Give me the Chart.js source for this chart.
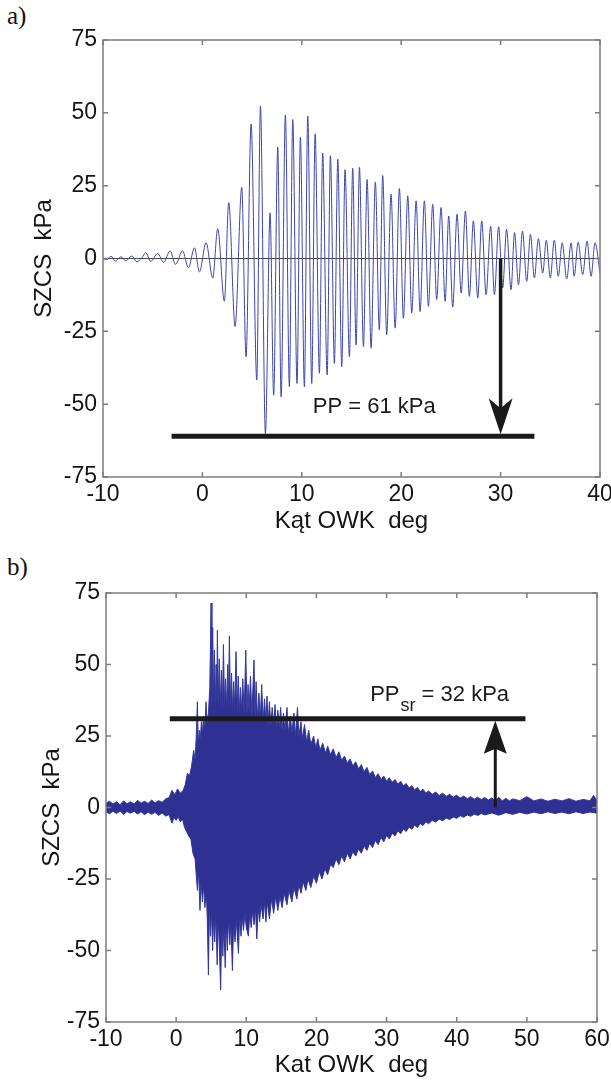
<!DOCTYPE html>
<html>
<head>
<meta charset="utf-8">
<script src="https://cdn.jsdelivr.net/npm/chart.js@4.4.1/dist/chart.umd.min.js"></script>
<style>
  html, body { margin: 0; padding: 0; background: #fff; width: 611px; height: 1084px; overflow: hidden; }
  .panel { position: absolute; left: 0; }
  .tag { position: absolute; left: 7px; font-family: "Liberation Serif", "Times New Roman", serif; font-size: 25px; color: #111; }
</style>
</head>
<body>
<div class="tag" style="top:2px">a)</div>
<div class="tag" style="top:553px">b)</div>
<canvas id="chartA" class="panel" style="top:0" width="620" height="540"></canvas>
<canvas id="chartB" class="panel" style="top:540px" width="620" height="544"></canvas>
<script>
// panel a: crank angle (deg) and pressure oscillation (kPa), peaks and troughs
const aX = [-10.0, -9.6, -9.2, -8.75, -8.2, -7.7, -7.1, -6.6, -6.1, -5.7, -5.2, -4.5, -3.9, -3.25, -2.7, -2.0, -1.4, -0.8, -0.3,
  0.37, 1.04, 1.54, 2.21, 2.65, 3.29, 3.96, 4.39, 4.9, 5.47, 5.84, 6.34, 6.81, 7.17, 7.58, 7.92, 8.35, 8.75, 9.09, 9.52, 9.86,
  10.26, 10.6, 11.0, 11.34, 11.77, 12.1, 12.55, 12.88, 13.28, 13.62, 14.02, 14.35, 14.79, 15.12, 15.46, 15.8, 16.2, 16.57, 16.97,
  17.4, 17.8, 18.14, 18.54, 18.98, 19.39, 19.82, 20.22, 20.66, 21.06, 21.5, 21.9, 22.33, 22.74, 23.17, 23.57, 24.01, 24.42, 24.78,
  25.18, 25.62, 26.03, 26.46, 26.86, 27.26, 27.7, 28.1, 28.54, 29.0, 29.38, 29.8, 30.21, 30.6, 31.05, 31.4, 31.8, 32.2, 32.63,
  33.0, 33.4, 33.8, 34.24, 34.6, 35.0, 35.4, 35.8, 36.2, 36.65, 37.1, 37.4, 37.8, 38.26, 38.7, 39.1, 39.5, 40.0];
const aY = [0.0, -0.4, 0.8, -0.9, 0.6, -0.8, 0.9, -1.1, 0.2, 2.0, -1.0, 1.7, -1.3, 2.6, -2.0, 2.6, -3.2, 3.7, -4.6,
  5.4, -6.7, 10.2, -14.7, 19.2, -23.3, 24.4, -33.7, 46.2, -41.7, 52.3, -60.1, 15.7, -46.9, 38.2, -47.5, 49.3, -44.0, 47.7, -42.9, 41.6,
  -44.0, 48.9, -42.9, 42.8, -39.4, 36.2, -40.0, 35.3, -36.0, 34.1, -37.1, 30.5, -33.7, 31.0, -29.7, 31.3, -30.2, 27.1, -30.8,
  26.2, -24.5, 28.5, -26.2, 22.1, -23.9, 24.0, -20.5, 21.5, -18.7, 19.8, -18.2, 19.8, -16.4, 18.6, -14.1, 17.5, -14.7, 14.6,
  -16.7, 15.2, -11.8, 16.3, -13.0, 12.9, -13.6, 12.9, -12.4, 11.1, -12.4, 10.9, -10.1, 10.0, -10.7, 8.9, -9.0, 9.4, -7.8,
  8.3, -6.7, 6.8, -5.0, 6.3, -6.7, 6.3, -6.1, 5.4, -7.0, 5.4, -6.1, 5.6, -5.5, 6.0, -6.1, 5.4, -5.0];

// panel b: upper and lower envelope of the dense trace
const bHiX = [-10, -9.5, -9, -8.5, -8, -7.5, -7, -6.5, -6, -5.5, -5, -4.5, -4, -3.5, -3, -2.5, -2, -1.5, -1, -0.6, -0.2, 0.2, 0.6, 1.0,
  1.3, 1.6, 1.9, 2.2, 2.5, 2.7, 2.85, 3.03, 3.15, 3.3, 3.45, 3.6, 3.75, 3.9, 4.1, 4.26, 4.4, 4.6, 4.8, 4.98, 5.1, 5.21, 5.35, 5.45,
  5.6, 5.7, 5.8, 5.88, 6.0, 6.15, 6.3, 6.45, 6.6, 6.74, 6.9, 7.05, 7.2, 7.35, 7.45, 7.59, 7.75, 7.9, 8.05, 8.2, 8.35, 8.54, 8.7,
  8.85, 9.0, 9.15, 9.3, 9.5, 9.7, 9.93, 10.1, 10.25, 10.4, 10.6, 10.8, 10.95, 11.1, 11.25, 11.4, 11.6, 11.8, 12.0, 12.2, 12.4,
  12.6, 12.8, 12.95, 13.1, 13.3, 13.5, 13.7, 13.9, 14.1, 14.3, 14.5, 14.7, 14.9, 15.1, 15.3, 15.5, 15.8, 16.0, 16.3, 16.5, 16.8,
  17.0, 17.3, 17.5, 17.8, 18.0, 18.3, 18.6, 18.9, 19.2, 19.6, 19.9, 20.2, 20.5, 20.9, 21.3, 21.6, 22.0, 22.4, 22.8, 23.2, 23.6,
  24.0, 24.4, 24.8, 25.2, 25.6, 26.0, 26.4, 26.8, 27.2, 27.6, 28.0, 28.4, 28.8, 29.2, 29.6, 30.0, 30.4, 30.8, 31.2, 31.6, 32.0,
  32.4, 32.8, 33.2, 33.6, 34.0, 34.4, 34.8, 35.2, 35.6, 36.0, 36.5, 37.0, 37.5, 38.0, 38.5, 39.0, 39.5, 40.0, 40.5, 41.0, 41.5,
  42.0, 42.5, 43.0, 43.5, 44.0, 44.5, 45.0, 45.5, 46.0, 46.5, 47.0, 47.5, 48.0, 49.0, 50.0, 51.0, 52.0, 53.0, 54.0, 55.0, 56.0,
  57.0, 58.0, 59.0, 59.5, 60.0];
const bHi = [1.5, 2.2, 1.2, 2.0, 1.0, 2.3, 1.3, 2.0, 1.2, 2.5, 1.5, 2.2, 1.4, 2.6, 1.6, 2.4, 1.8, 3.0, 3.5, 6.0, 4.5, 6.5, 5.0, 6.0,
  8.0, 12.0, 11.0, 14.5, 20.0, 17.0, 24.0, 37.0, 22.0, 27.0, 24.0, 30.0, 26.0, 32.0, 28.0, 37.0, 30.0, 33.0, 42.0, 71.5, 36, 63, 37, 55,
  36, 50, 38, 62, 37, 52, 36, 48, 35, 57, 36, 45, 35, 50, 36, 60, 35, 47, 34, 44, 35, 54.5, 34,
  46, 33, 42, 34, 45, 33, 55, 33, 43, 34, 46, 32, 42, 51.6, 32, 44, 31, 40, 31, 43, 30,
  38, 30, 39, 29, 37, 29, 35, 29, 36, 28, 34, 28, 35, 27, 33, 27, 35, 26, 32, 26, 33,
  25, 35, 25, 30, 24, 29, 23, 27, 22, 25, 21, 24, 20, 22.5, 19, 21.5, 18.5, 20.5, 17.5, 19.5, 16.5,
  18.0, 15.5, 17.0, 14.5, 16.0, 13.5, 15.0, 12.5, 14.0, 11.5, 12.8, 10.5, 11.8, 9.8, 11.0, 9.2, 10.4, 8.8, 9.8, 8.2, 9.2,
  7.6, 8.4, 6.8, 7.6, 6.2, 7.0, 5.6, 6.4, 5.0, 5.8, 4.6, 5.4, 4.2, 5.0, 3.9, 4.6, 3.6, 4.3, 3.3, 4.0, 3.1,
  3.8, 2.9, 3.6, 2.8, 3.5, 2.6, 3.3, 2.4, 3.6, 2.3, 3.2, 2.3, 3.0, 2.4, 3.8, 2.3, 3.0, 2.2, 2.9, 2.3, 3.1,
  2.2, 2.8, 2.4, 4.2, 2.5];
const bLoX = [-10, -9.5, -9, -8.5, -8, -7.5, -7, -6.5, -6, -5.5, -5, -4.5, -4, -3.5, -3, -2.5, -2, -1.5, -1, -0.6, -0.3, 0, 0.3, 0.6,
  0.9, 1.2, 1.5, 1.8, 2.1, 2.4, 2.7, 3.03, 3.2, 3.4, 3.55, 3.75, 3.9, 4.1, 4.3, 4.45, 4.6, 4.75, 4.9, 5.05, 5.2, 5.35, 5.5, 5.65,
  5.85, 6.0, 6.15, 6.35, 6.5, 6.65, 6.8, 7.0, 7.15, 7.3, 7.45, 7.65, 7.8, 8.02, 8.2, 8.4, 8.55, 8.7, 8.88, 9.05, 9.25, 9.4, 9.6,
  9.8, 10.0, 10.3, 10.5, 10.7, 10.9, 11.1, 11.3, 11.5, 11.7, 11.9, 12.1, 12.4, 12.6, 12.8, 13.0, 13.3, 13.6, 13.9, 14.2, 14.5,
  14.8, 15.1, 15.4, 15.8, 16.1, 16.5, 16.8, 17.2, 17.5, 17.8, 18.1, 18.5, 18.8, 19.2, 19.6, 20.0, 20.4, 20.8, 21.2, 21.6, 22.0,
  22.4, 22.8, 23.2, 23.6, 24.0, 24.4, 24.8, 25.2, 25.6, 26.0, 26.4, 26.8, 27.2, 27.6, 28.0, 28.4, 28.8, 29.2, 29.6, 30.0, 30.4,
  30.8, 31.2, 31.6, 32.0, 32.4, 32.8, 33.2, 33.6, 34.0, 34.4, 34.8, 35.2, 35.6, 36.0, 36.5, 37.0, 37.5, 38.0, 38.5, 39.0, 39.5,
  40.0, 40.5, 41.0, 41.5, 42.0, 42.5, 43.0, 43.5, 44.0, 45.0, 46.0, 47.0, 48.0, 49.0, 50.0, 51.0, 52.0, 53.0, 54.0, 55.0, 56.0,
  57.0, 58.0, 59.0, 60.0];
const bLo = [-1.5, -2.2, -1.3, -2.1, -1.2, -2.4, -1.4, -2.0, -1.3, -2.3, -1.5, -2.5, -1.6, -2.4, -1.7, -2.8, -1.9, -3.0, -2.5, -5.5, -3.5, -4.5, -3.2, -5.0,
  -4.0, -7.0, -8.5, -10, -11, -16, -18, -29, -22, -36, -26, -33, -27, -35, -29, -40, -58.6, -34, -45, -36, -50, -38, -47, -37,
  -55, -39, -48, -63.8, -40, -52, -41, -56, -40, -50, -39, -48, -40, -57, -40, -47, -39, -44, -51, -38, -45, -38, -43,
  -37, -42, -45, -37, -42, -36, -41, -35, -46, -35, -40, -34, -39, -33, -40, -33, -39, -32, -37, -31, -36,
  -31, -35, -30, -34, -29, -33, -28, -32, -27, -30, -26, -29, -25, -28, -24, -26.5, -22.5, -25, -21.5, -23.5, -20,
  -21, -18, -20, -17, -19, -16, -18, -15.5, -17, -14.5, -16, -13.5, -15, -12.5, -14, -11.5, -13, -10.5, -12, -9.8, -11,
  -9.0, -10, -8.2, -9.2, -7.5, -8.4, -6.8, -7.6, -6.2, -7.0, -5.6, -6.3, -5.0, -5.7, -4.5, -5.1, -4.1, -4.6, -3.7, -4.2, -3.3,
  -3.8, -2.9, -3.4, -2.6, -3.1, -2.3, -2.8, -2.1, -2.6, -1.9, -2.7, -1.8, -2.4, -1.7, -2.3, -1.6, -2.2, -1.5, -2.1, -1.6, -2.2,
  -1.5, -2.1, -1.6, -2.0];

// annotations
const ppA = 61, ppAFrom = -3.1, ppATo = 33.4, arrowAX = 30;
const ppB = 31, ppBFrom = -0.9, ppBTo = 49.8, arrowBX = 45.5;

const tickFont = { family: "'Liberation Sans', Arial, sans-serif", size: 23 };
const titleFont = { family: "'Liberation Sans', Arial, sans-serif", size: 24 };
const ink = "#151515";

function pts(xs, ys) {
  return xs.map((x, i) => ({ x: x, y: ys[i] }));
}

const boxPlugin = {
  id: "box",
  afterDraw(chart) {
    const { ctx, chartArea: a, scales: { x, y } } = chart;
    ctx.save();
    ctx.strokeStyle = "#7d7d7d";
    ctx.lineWidth = 1.5;
    ctx.strokeRect(a.left, a.top, a.right - a.left, a.bottom - a.top);
    ctx.beginPath();
    x.ticks.forEach(t => {
      const px = x.getPixelForValue(t.value);
      ctx.moveTo(px, a.bottom); ctx.lineTo(px, a.bottom - 5);
      ctx.moveTo(px, a.top); ctx.lineTo(px, a.top + 5);
    });
    y.ticks.forEach(t => {
      const py = y.getPixelForValue(t.value);
      ctx.moveTo(a.left, py); ctx.lineTo(a.left + 5, py);
      ctx.moveTo(a.right, py); ctx.lineTo(a.right - 5, py);
    });
    ctx.stroke();
    ctx.restore();
  }
};

function arrowHead(ctx, x, tipY, dir, len, halfW, notch) {
  // dir 1 = pointing down, -1 = pointing up
  ctx.beginPath();
  ctx.moveTo(x, tipY);
  ctx.lineTo(x - halfW, tipY - dir * len);
  ctx.lineTo(x, tipY - dir * (len - notch));
  ctx.lineTo(x + halfW, tipY - dir * len);
  ctx.closePath();
  ctx.fill();
}

function scaleOpts(min, max, step, title, yTitlePad, fitW, fitH) {
  return {
    x: {
      type: "linear", min: min, max: max,
      ticks: { stepSize: step, font: tickFont, color: ink, padding: 4, maxRotation: 0 },
      grid: { display: false, drawTicks: false }, border: { display: false },
      title: { display: true, text: title, font: titleFont, color: ink, padding: 0 },
      afterFit: s => { s.height = fitH; }
    },
    y: {
      min: -75, max: 75,
      ticks: { stepSize: 25, font: tickFont, color: ink, padding: 6 },
      grid: { display: false, drawTicks: false }, border: { display: false },
      title: { display: true, text: "SZCS  kPa", font: titleFont, color: ink, padding: { top: yTitlePad, bottom: 0 } },
      afterFit: s => { s.width = fitW; }
    }
  };
}

new Chart(document.getElementById("chartA"), {
  type: "line",
  data: {
    datasets: [
      { data: pts(aX, aY), borderColor: "#3d45ad", borderWidth: 1, pointRadius: 0, cubicInterpolationMode: "monotone" }
    ]
  },
  options: {
    responsive: false, animation: false, devicePixelRatio: 1,
    layout: { padding: { left: 0, right: 20, top: 40, bottom: 4 } },
    plugins: { legend: { display: false }, tooltip: { enabled: false } },
    scales: scaleOpts(-10, 40, 10, "Kąt OWK  deg", 30, 103, 59)
  },
  plugins: [boxPlugin, {
    id: "notesA",
    afterDatasetsDraw(chart) {
      const { ctx, scales: { x, y } } = chart;
      ctx.save();
      ctx.strokeStyle = "#4a4a4a";
      ctx.lineWidth = 1;
      ctx.beginPath();
      ctx.moveTo(x.left, y.getPixelForValue(0));
      ctx.lineTo(x.right, y.getPixelForValue(0));
      ctx.stroke();
      const ly = y.getPixelForValue(-ppA);
      ctx.strokeStyle = "#1a1a1a";
      ctx.fillStyle = "#1a1a1a";
      ctx.lineWidth = 5;
      ctx.beginPath();
      ctx.moveTo(x.getPixelForValue(ppAFrom), ly);
      ctx.lineTo(x.getPixelForValue(ppATo), ly);
      ctx.stroke();
      const ax = x.getPixelForValue(arrowAX);
      ctx.lineWidth = 3.5;
      ctx.beginPath();
      ctx.moveTo(ax, y.getPixelForValue(0));
      ctx.lineTo(ax, ly - 25);
      ctx.stroke();
      arrowHead(ctx, ax, ly - 2, 1, 36, 12, 10);
      ctx.font = "22px 'Liberation Sans', Arial, sans-serif";
      ctx.textBaseline = "alphabetic";
      ctx.fillText("PP = 61 kPa", x.getPixelForValue(11.1), y.getPixelForValue(-53.2));
      ctx.restore();
    }
  }]
});

new Chart(document.getElementById("chartB"), {
  type: "line",
  data: {
    datasets: [
      { data: pts(bHiX, bHi), borderColor: "#34389c", backgroundColor: "#2e3192", borderWidth: 1, pointRadius: 0, fill: "+1" },
      { data: pts(bLoX, bLo), borderColor: "#34389c", borderWidth: 1, pointRadius: 0, fill: false }
    ]
  },
  options: {
    responsive: false, animation: false, devicePixelRatio: 1,
    layout: { padding: { left: 0, right: 23, top: 53, bottom: 4 } },
    plugins: { legend: { display: false }, tooltip: { enabled: false } },
    scales: scaleOpts(-10, 60, 10, "Kat OWK  deg", 38, 106, 58)
  },
  plugins: [boxPlugin, {
    id: "notesB",
    afterDatasetsDraw(chart) {
      const { ctx, scales: { x, y } } = chart;
      ctx.save();
      const ly = y.getPixelForValue(ppB);
      ctx.strokeStyle = "#1a1a1a";
      ctx.fillStyle = "#1a1a1a";
      ctx.lineWidth = 5;
      ctx.beginPath();
      ctx.moveTo(x.getPixelForValue(ppBFrom), ly);
      ctx.lineTo(x.getPixelForValue(ppBTo), ly);
      ctx.stroke();
      const ax = x.getPixelForValue(arrowBX);
      ctx.lineWidth = 3;
      ctx.beginPath();
      ctx.moveTo(ax, y.getPixelForValue(0));
      ctx.lineTo(ax, ly + 25);
      ctx.stroke();
      arrowHead(ctx, ax, ly + 2, -1, 33, 11.5, 5);
      ctx.font = "22px 'Liberation Sans', Arial, sans-serif";
      ctx.textBaseline = "alphabetic";
      let tx = x.getPixelForValue(27.66);
      const by = y.getPixelForValue(37.2);
      ctx.fillText("PP", tx, by);
      tx += ctx.measureText("PP").width;
      ctx.font = "18px 'Liberation Sans', Arial, sans-serif";
      ctx.fillText("sr", tx + 1, by + 10);
      tx += ctx.measureText("sr").width + 1;
      ctx.font = "22px 'Liberation Sans', Arial, sans-serif";
      ctx.fillText(" = 32 kPa", tx, by);
      ctx.restore();
    }
  }]
});
</script>
</body>
</html>
